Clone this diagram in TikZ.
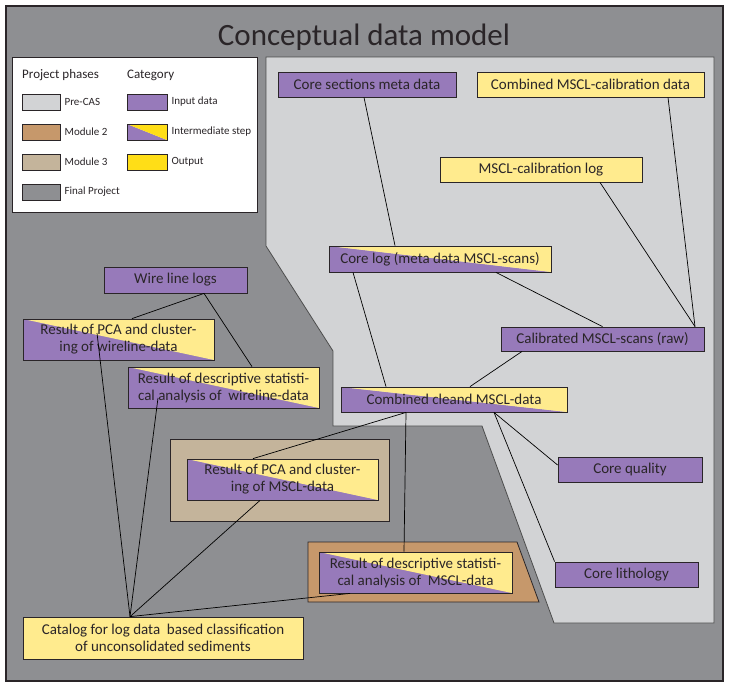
\documentclass[tikz,border=0pt]{standalone}
\usepackage{fontspec}
\setmainfont{Carlito}
\usetikzlibrary{positioning}
\definecolor{framegray}{HTML}{8E8F92}
\definecolor{precas}{HTML}{D2D3D5}
\definecolor{modtwo}{HTML}{C6986B}
\definecolor{modthree}{HTML}{C4B49B}
\definecolor{inputpurple}{HTML}{977ABA}
\definecolor{outyellow}{HTML}{FFEB8E}
\definecolor{legyellow}{HTML}{FFDE17}
\definecolor{inkdark}{HTML}{2A2528}
\tikzset{
  databox/.style={draw=inkdark, line width=0.8pt, text=inkdark, inner sep=0pt,
    font=\fontsize{15}{17}\selectfont, align=center},
  inputbox/.style={databox, fill=inputpurple},
  outputbox/.style={databox, fill=outyellow},
  stepbox/.style={databox, path picture={
    \fill[inputpurple] (path picture bounding box.north west) -- (path picture bounding box.south east)
      -- (path picture bounding box.south west) -- cycle;
    \fill[#1] (path picture bounding box.north west) -- (path picture bounding box.north east)
      -- (path picture bounding box.south east) -- cycle;}},
  stepbox/.default=outyellow,
  link/.style={draw=black, line width=0.7pt},
  swatch/.style={draw=inkdark, line width=0.8pt, minimum width=38pt, minimum height=16pt, inner sep=0pt},
  legtext/.style={font=\fontsize{11}{13}\selectfont, text=inkdark, inner sep=0pt}
}
\begin{document}
\begin{tikzpicture}[x=1pt,y=-1pt]
    \useasboundingbox (0,0) rectangle (730,689);
    \fill[white] (0,0) rectangle (730,689);
    \draw[fill=framegray,draw=inkdark,line width=1.2pt] (6,6) rectangle (723,681);
    \node[anchor=base,text=inkdark,font=\fontsize{31}{34}\selectfont,inner sep=0pt] (title) at (364,45) {Conceptual data model};

    % project phases
    \draw[fill=precas,draw=black!70,line width=0.8pt] (266,57) -- (714,57) -- (714,623) -- (554,623) -- (482,426)
        -- (333,426) -- (333,351) -- (266,246) -- cycle;
    \draw[fill=modthree,draw=inkdark,line width=0.8pt] (170,439) rectangle (389,521);
    \draw[fill=modtwo,draw=inkdark,line width=0.8pt] (308,542) -- (517,542) -- (539,602) -- (308,602) -- cycle;

    % legend
    \draw[fill=white,draw=inkdark,line width=0.8pt] (12,57) rectangle (257,212);
    \node[anchor=base west,text=inkdark,font=\fontsize{13}{15}\selectfont,inner sep=0pt] (phases) at (22,78) {Project phases};
    \node[anchor=base west,text=inkdark,font=\fontsize{13}{15}\selectfont,inner sep=0pt] (category) at (127,78) {Category};
    \node[swatch,fill=precas] (swprecas) at (41,102) {};
    \node[swatch,fill=modtwo] (swmodtwo) at (41,132) {};
    \node[swatch,fill=modthree] (swmodthree) at (41,162) {};
    \node[swatch,fill=framegray] (swfinal) at (41,192) {};
    \node[legtext,right=4pt of swprecas] {Pre-CAS};
    \node[legtext,right=4pt of swmodtwo] {Module 2};
    \node[legtext,right=4pt of swmodthree] {Module 3};
    \node[legtext,right=4pt of swfinal] {Final Project};
    \node[swatch,fill=inputpurple,minimum width=40pt] (swinput) at (147,102) {};
    \node[swatch,stepbox=legyellow,minimum width=40pt,minimum height=16pt] (swstep) at (147,132) {};
    \node[swatch,fill=legyellow,minimum width=40pt] (swoutput) at (147,162) {};
    \node[legtext,right=4pt of swinput] {Input data};
    \node[legtext,right=4pt of swstep] {Intermediate step};
    \node[legtext,right=4pt of swoutput] {Output};

    % data nodes
    \node[inputbox,minimum width=178pt,minimum height=25pt] (coresec) at (367,84.5) {Core sections meta data};
    \node[outputbox,minimum width=227pt,minimum height=25pt] (combcal) at (590.5,84.5) {Combined MSCL-calibration data};
    \node[outputbox,minimum width=202pt,minimum height=25pt] (callog) at (541,169.5) {MSCL-calibration log};
    \node[stepbox,minimum width=222pt,minimum height=26pt] (corelog) at (440,259) {Core log (meta data MSCL-scans)};
    \node[inputbox,minimum width=203pt,minimum height=24pt] (calscans) at (602.5,339) {Calibrated MSCL-scans (raw)};
    \node[stepbox,minimum width=226pt,minimum height=25pt] (cleand) at (454,399.5) {Combined cleand MSCL-data};
    \node[inputbox,minimum width=144pt,minimum height=25pt] (quality) at (630,469.5) {Core quality};
    \node[inputbox,minimum width=143pt,minimum height=25pt] (lithology) at (626.5,574.5) {Core lithology};
    \node[inputbox,minimum width=143pt,minimum height=26pt] (wireline) at (175.5,280) {Wire line logs};
    \node[stepbox,minimum width=191pt,minimum height=41pt] (pcawire) at (118.5,339.5) {Result of PCA and cluster-\\ing of wireline-data};
    \node[stepbox,minimum width=191pt,minimum height=41pt] (descwire) at (223.5,387.5) {Result of descriptive statisti-\\cal analysis of~ wireline-data};
    \node[stepbox,minimum width=191pt,minimum height=41pt] (pcamscl) at (282.5,479.5) {Result of PCA and cluster-\\ing of MSCL-data};
    \node[stepbox,minimum width=193pt,minimum height=41pt] (descmscl) at (415.5,572.5) {Result of descriptive statisti-\\cal analysis of~ MSCL-data};
    \node[outputbox,minimum width=280pt,minimum height=42pt] (catalog) at (163,638) {Catalog for log data~ based classification\\of unconsolidated sediments};

    % links
    \draw[link] ([xshift=-3pt]coresec.south) -- ([xshift=-45pt]corelog.north);
    \draw[link] ([xshift=77.5pt]combcal.south) -- ([xshift=92.5pt]calscans.north);
    \draw[link] ([xshift=59pt]callog.south) -- ([xshift=92.5pt]calscans.north);
    \draw[link] ([xshift=56pt]corelog.south) -- (calscans.north);
    \draw[link] ([xshift=-87pt]corelog.south) -- ([xshift=-68pt]cleand.north);
    \draw[link] ([xshift=-80.5pt]calscans.south) -- ([xshift=16pt]cleand.north);
    \draw[link] ([xshift=-48pt]cleand.south) -- ([xshift=-29.5pt]pcamscl.north);
    \draw[link] ([xshift=-48pt]cleand.south) -- ([xshift=-11.5pt]descmscl.north);
    \draw[link] ([xshift=40pt]cleand.south) -- ([yshift=4.5pt]quality.west);
    \draw[link] ([xshift=40pt]cleand.south) -- (lithology.north west);
    \draw[link] ([xshift=28.5pt]wireline.south) -- ([xshift=13.5pt]pcawire.north);
    \draw[link] ([xshift=28.5pt]wireline.south) -- ([xshift=28.5pt]descwire.north);
    \draw[link] ([xshift=-21.5pt,yshift=6.5pt]pcawire.center) -- ([xshift=-33pt]catalog.north);
    \draw[link] ([xshift=-65.5pt,yshift=-10.5pt]descwire.center) -- ([xshift=-33pt]catalog.north);
    \draw[link] ([xshift=-22.5pt]pcamscl.south) -- ([xshift=-33pt]catalog.north);
    \draw[link] ([xshift=-65.5pt]descmscl.south) -- ([xshift=-33pt]catalog.north);
\end{tikzpicture}
\end{document}
